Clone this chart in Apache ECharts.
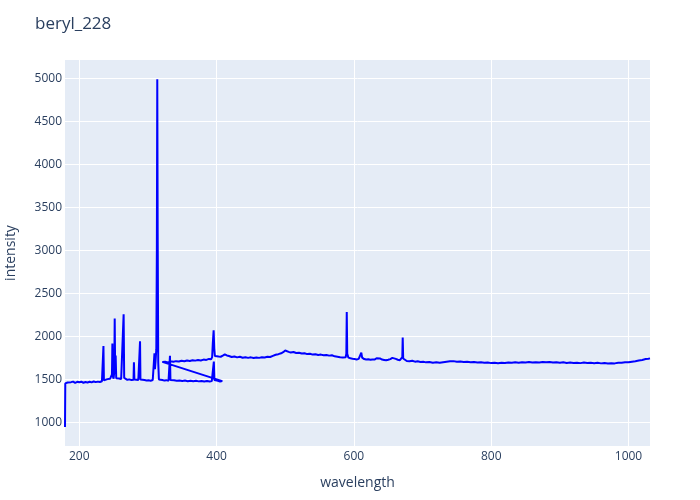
<!DOCTYPE html>
<html>
<head>
<meta charset="utf-8">
<script src="https://cdn.jsdelivr.net/npm/echarts@6/dist/echarts.min.js"></script>
<style>html,body{margin:0;padding:0;background:#fff}#c{width:700px;height:500px}</style>
</head>
<body>
<div id="c"></div>
<script>
const title = "beryl_228";
const xName = "wavelength";
const yName = "intensity";
const xTicks = [200, 400, 600, 800, 1000];
const yTicks = [1000, 1500, 2000, 2500, 3000, 3500, 4000, 4500, 5000];

// first spectrum (lower trace)
const wl1 = [179.2,179.6,181,183,185,188,191,194,197,200,203,206,209,212,215,218,221,224,227,230,233,234.5,235.2,235.9,238,241,243,245,247,247.6,248.2,248.8,250,251,251.6,252.2,253,253.8,255,258,261,263.8,264.6,265.4,267,270,273,276,279,279.6,280.3,283,286,288,288.5,289.1,292,295,298,301,304,307,308.8,309.5,310.2,311,312.2,313,313.6,314.2,315,316,318,321,324,327,330,331.5,332.1,332.8,335,338,342,346,350,354,358,362,366,370,374,378,382,386,390,393,395.2,396,396.8,399,402,405,408.3];
const int1 = [950,1455,1478,1466,1482,1470,1476,1462,1474,1468,1475,1463,1472,1466,1474,1467,1478,1470,1476,1471,1480,1485,1890,1490,1497,1505,1495,1510,1502,1560,1920,1540,1510,1600,2210,1650,1780,1515,1508,1512,1505,1515,2258,1520,1503,1497,1502,1494,1498,1700,1500,1493,1496,1510,1945,1500,1490,1494,1488,1492,1487,1495,1510,1805,1620,1700,1850,3000,4988,3200,1700,1500,1490,1495,1488,1493,1486,1495,1775,1495,1488,1492,1485,1490,1483,1488,1481,1486,1480,1485,1479,1484,1478,1483,1477,1482,1490,1710,1495,1480,1486,1478,1482];

// second spectrum (upper trace)
const wl2 = [321,325,329,333,337,341,345,349,353,357,361,365,369,373,377,381,385,389,392,393.5,394.5,395.7,396.6,397.5,400,403,406,409,412,415,418,422,426,430,434,438,442,446,450,454,458,462,466,470,474,478,482,486,490,494,497,500,502,505,508,512,516,520,524,528,532,536,540,544,548,552,556,560,564,568,572,576,580,584,588,589,589.6,590.3,592,595,598,601,604,607,609.5,610.8,612,615,618,621,624,627,630,633,635.5,638,641,644,647,650,653,656,658,661,664,667,669.5,670.5,671.1,671.8,674,677,681,685,689,693,697,701,705,710,715,720,725,730,735,740,745,750,755,760,765,770,775,780,785,790,795,800,805,810,815,820,825,830,835,840,845,850,855,860,865,870,875,880,885,890,895,900,905,910,915,920,925,930,935,940,945,950,955,960,965,970,975,980,985,990,995,1000,1005,1010,1015,1020,1025,1029,1031.3];
const int2 = [1705,1708,1700,1712,1706,1714,1709,1718,1713,1722,1716,1725,1720,1728,1722,1732,1728,1740,1735,1760,1920,2073,1860,1775,1762,1768,1765,1778,1792,1780,1774,1762,1768,1758,1765,1754,1760,1752,1758,1750,1756,1752,1760,1757,1766,1762,1775,1788,1795,1805,1818,1838,1832,1822,1815,1820,1808,1812,1802,1806,1796,1800,1790,1794,1786,1790,1782,1786,1778,1782,1770,1766,1760,1756,1760,1800,2286,1800,1755,1748,1742,1738,1734,1740,1760,1812,1755,1738,1732,1736,1730,1734,1732,1748,1763,1745,1732,1728,1724,1730,1738,1752,1756,1740,1730,1725,1728,1760,1988,1745,1722,1716,1712,1718,1708,1712,1704,1708,1700,1704,1696,1700,1694,1700,1706,1712,1714,1706,1710,1703,1707,1700,1703,1697,1700,1694,1698,1691,1694,1689,1694,1692,1698,1695,1700,1696,1702,1698,1703,1697,1702,1698,1704,1700,1705,1698,1702,1696,1700,1693,1697,1692,1696,1691,1697,1692,1696,1690,1694,1688,1692,1686,1690,1688,1694,1696,1702,1700,1708,1712,1722,1728,1738,1742,1746];

const points = [];
for (let i = 0; i < wl1.length; i++) points.push([wl1[i], int1[i]]);
for (let i = 0; i < wl2.length; i++) points.push([wl2[i], int2[i]]);

const txt = '#2a3f5f';
const font = '"Open Sans", "Noto Sans", sans-serif';
const chart = echarts.init(document.getElementById('c'), null, {renderer: 'canvas'});
chart.setOption({
  animation: false,
  backgroundColor: '#ffffff',
  textStyle: {fontFamily: font},
  title: {
    text: title, left: 30, top: 11,
    textStyle: {fontFamily: font, fontSize: 17, fontWeight: 'normal', color: txt}
  },
  grid: {
    left: 65, right: 50, top: 60, bottom: 54,
    outerBoundsMode: 'none', containLabel: false,
    show: true, backgroundColor: '#E5ECF6', borderWidth: 0
  },
  xAxis: {
    type: 'value', min: 179.2, max: 1031.3,
    name: xName, nameLocation: 'middle', nameGap: 30,
    nameTextStyle: {fontFamily: font, fontSize: 14, color: txt},
    axisLine: {show: false},
    axisTick: {show: false, customValues: xTicks},
    axisLabel: {customValues: xTicks, formatter: v => String(v), fontFamily: font, fontSize: 12, color: txt, margin: 5},
    splitLine: {show: true, lineStyle: {color: '#ffffff', width: 1}}
  },
  yAxis: {
    type: 'value', min: 728, max: 5213,
    name: yName, nameLocation: 'middle', nameGap: 47, nameRotate: 90,
    nameTextStyle: {fontFamily: font, fontSize: 14, color: txt},
    axisLine: {show: false},
    axisTick: {show: false, customValues: yTicks},
    axisLabel: {customValues: yTicks, formatter: v => String(v), fontFamily: font, fontSize: 12, color: txt, margin: 3},
    splitLine: {show: true, lineStyle: {color: '#ffffff', width: 1}}
  },
  series: [{
    type: 'line',
    data: points,
    showSymbol: false,
    symbol: 'none',
    lineStyle: {color: '#0000ff', width: 2},
    itemStyle: {color: '#0000ff'}
  }]
});
</script>
</body>
</html>
